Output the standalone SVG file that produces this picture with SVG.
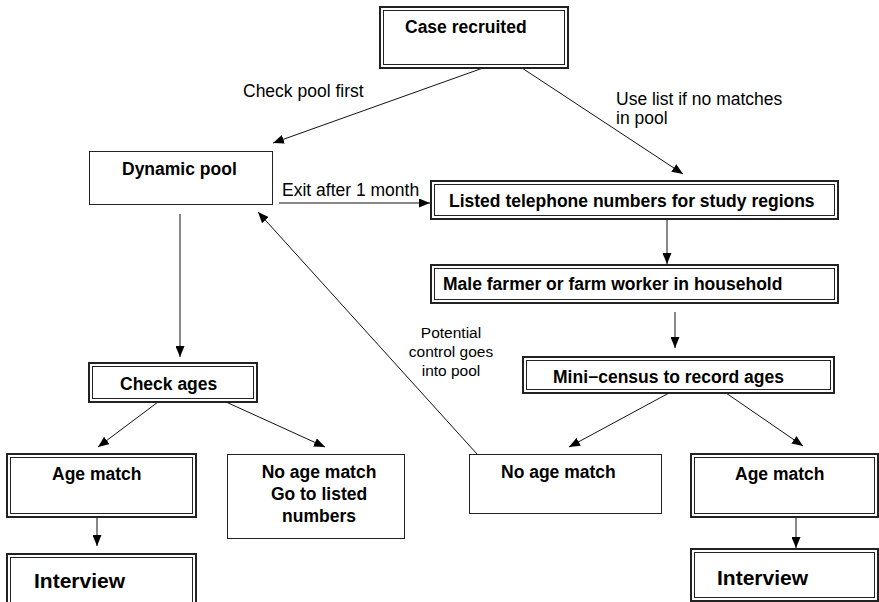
<svg xmlns="http://www.w3.org/2000/svg" width="879" height="602" viewBox="0 0 879 602">
<style>
.o{fill:#fff;stroke:#222;stroke-width:2}
.i{fill:none;stroke:#222;stroke-width:1}
.s{fill:#fff;stroke:#222;stroke-width:1}
.b{font-family:"Liberation Sans",Arial,sans-serif;font-weight:bold;font-size:17.5px;fill:#000}
.big{font-size:21px}
.l{font-family:"Liberation Sans",Arial,sans-serif;font-size:17.5px;fill:#000}
.c{stroke:#111;stroke-width:1;fill:none;marker-end:url(#ah)}
</style>
<defs>
<marker id="ah" markerUnits="userSpaceOnUse" markerWidth="11" markerHeight="9" refX="11" refY="4.5" orient="auto">
<path d="M0,0 L11,4.5 L0,9 z" fill="#000"/>
</marker>
</defs>
<rect width="879" height="602" fill="#fff"/>
<g id="connectors">
<line class="c" x1="483" y1="68" x2="273" y2="143"/>
<line class="c" x1="522" y1="68" x2="683" y2="174"/>
<line class="c" x1="279" y1="203" x2="430" y2="203"/>
<line class="c" x1="180" y1="214" x2="180" y2="357"/>
<line class="c" x1="667" y1="219" x2="667" y2="264"/>
<line class="c" x1="675" y1="312" x2="675" y2="348"/>
<line class="c" x1="158" y1="402" x2="98" y2="447"/>
<line class="c" x1="226" y1="402" x2="325" y2="447"/>
<line class="c" x1="669" y1="393" x2="569" y2="447"/>
<line class="c" x1="726" y1="393" x2="803" y2="446"/>
<line class="c" x1="477" y1="454" x2="258" y2="212"/>
<line class="c" x1="97" y1="517" x2="97" y2="546"/>
<line class="c" x1="796" y1="517" x2="796" y2="548"/>
</g>
<g id="labels">
<text class="l" x="243" y="97">Check pool first</text>
<text class="l" x="616" y="105">Use list if no matches</text>
<text class="l" x="616" y="124">in pool</text>
<text class="l" x="282" y="196">Exit after 1 month</text>
<text class="l" x="451" y="338" text-anchor="middle" style="font-size:15.5px">Potential</text>
<text class="l" x="451" y="357" text-anchor="middle" style="font-size:15.5px">control goes</text>
<text class="l" x="451" y="376" text-anchor="middle" style="font-size:15.5px">into pool</text>
</g>
<g id="case-recruited">
<rect class="o" x="380" y="7" width="188" height="61"/>
<rect class="i" x="383.5" y="10.5" width="181" height="54"/>
<text class="b" x="405" y="33">Case recruited</text>
</g>
<g id="dynamic-pool">
<rect class="s" x="89.5" y="151.5" width="183" height="53"/>
<text class="b" x="122" y="175">Dynamic pool</text>
</g>
<g id="listed-numbers">
<rect class="o" x="431" y="181" width="407" height="38"/>
<rect class="i" x="434.5" y="184.5" width="400" height="31"/>
<text class="b" x="449" y="207">Listed telephone numbers for study regions</text>
</g>
<g id="male-farmer">
<rect class="o" x="431" y="265" width="407" height="38"/>
<rect class="i" x="434.5" y="268.5" width="400" height="31"/>
<text class="b" x="443" y="290">Male farmer or farm worker in household</text>
</g>
<g id="mini-census">
<rect class="o" x="523" y="357" width="311" height="36"/>
<rect class="i" x="526.5" y="360.5" width="304" height="29"/>
<text class="b" x="553" y="383">Mini−census to record ages</text>
</g>
<g id="check-ages">
<rect class="o" x="89" y="363" width="168" height="39"/>
<rect class="i" x="92.5" y="366.5" width="161" height="32"/>
<text class="b" x="120" y="390">Check ages</text>
</g>
<g id="age-match-left">
<rect class="o" x="7" y="454" width="189" height="63"/>
<rect class="i" x="10.5" y="457.5" width="182" height="56"/>
<text class="b" x="52" y="480">Age match</text>
</g>
<g id="interview-left">
<rect class="o" x="7" y="554" width="189" height="60"/>
<rect class="i" x="10.5" y="557.5" width="182" height="53"/>
<text class="b big" x="34" y="588">Interview</text>
</g>
<g id="no-age-match-left">
<rect class="s" x="227.5" y="454.5" width="177" height="84"/>
<text class="b" x="319" y="478" text-anchor="middle">No age match</text>
<text class="b" x="319" y="500" text-anchor="middle">Go to listed</text>
<text class="b" x="319" y="522" text-anchor="middle">numbers</text>
</g>
<g id="no-age-match-right">
<rect class="s" x="469.5" y="454.5" width="192" height="59"/>
<text class="b" x="501" y="478">No age match</text>
</g>
<g id="age-match-right">
<rect class="o" x="691" y="454" width="187" height="63"/>
<rect class="i" x="694.5" y="457.5" width="180" height="56"/>
<text class="b" x="735" y="480">Age match</text>
</g>
<g id="interview-right">
<rect class="o" x="691" y="549" width="187" height="52"/>
<rect class="i" x="694.5" y="552.5" width="180" height="45"/>
<text class="b big" x="717" y="585">Interview</text>
</g>
</svg>
